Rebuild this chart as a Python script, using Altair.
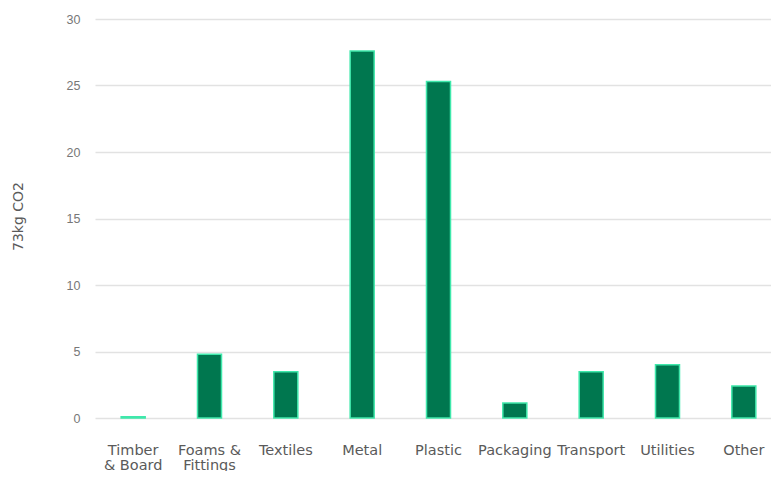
import altair as alt
import pandas as pd

categories = ["Timber|& Board", "Foams &|Fittings", "Textiles", "Metal", "Plastic",
              "Packaging", "Transport", "Utilities", "Other"]
values = [0.1, 4.8, 3.47, 27.6, 25.3, 1.13, 3.47, 4.0, 2.41]

df = pd.DataFrame({"category": categories, "value": values})

chart = alt.Chart(df).mark_bar(
    color="#00774f", stroke="#3fe8ab", strokeWidth=1.5, size=24
).encode(
    x=alt.X("category:N", sort=categories, title=None,
            scale=alt.Scale(paddingInner=0, paddingOuter=0, range=[3, 690]),
            axis=alt.Axis(labelAngle=0, labelExpr="split(datum.label, '|')",
                          labelFont="DejaVu Sans", labelFontSize=14.5, labelColor="#5a5a5a",
                          labelPadding=25, labelLineHeight=15, ticks=False, domain=False,
                          labelBaseline="top", labelBound=False, labelOverlap=False)),
    y=alt.Y("value:Q", title="73kg CO2",
            scale=alt.Scale(domain=[0, 30]),
            axis=alt.Axis(values=[0, 5, 10, 15, 20, 25, 30], ticks=False, domain=False,
                          labelFont="Liberation Sans", labelFontSize=12.5, labelColor="#777777",
                          labelPadding=12, gridColor="#e2e2e2", gridWidth=1.5,
                          titleFont="DejaVu Sans", titleFontSize=14, titleFontWeight="normal",
                          titleColor="#5a5a5a", titleAngle=270, titleX=-74, titleY=197,
                          titleAlign="center", titleBaseline="middle")),
).properties(
    width=679, height=399,
    autosize=alt.AutoSizeParams(type="none"),
    padding={"left": 84, "top": 11, "right": 0, "bottom": 53},
).configure_view(stroke=None)

chart.save("out.html", embed_options={"renderer": "svg", "actions": False})
